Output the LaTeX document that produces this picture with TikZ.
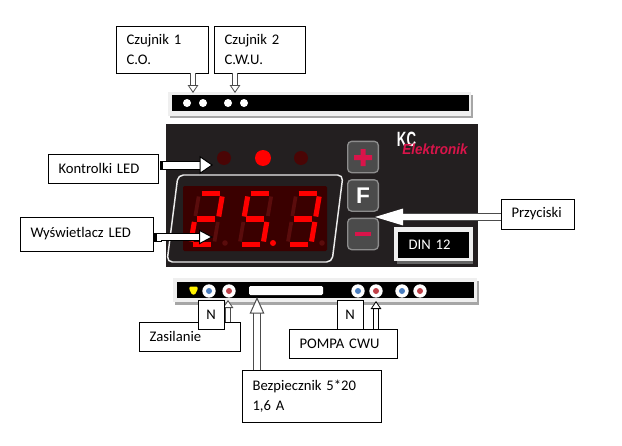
\documentclass[tikz,border=0pt]{standalone}
\usepackage{fontspec}
\setmainfont{Carlito}[WordSpace=0.6]
\newfontfamily\logofont{Liberation Sans}
\usetikzlibrary{positioning, calc, arrows.meta}

\definecolor{panel}{HTML}{231F20}
\definecolor{stripgrey}{HTML}{EFEFEF}
\definecolor{ledoff}{HTML}{4A0505}
\definecolor{ledon}{HTML}{FF0000}
\definecolor{screen}{HTML}{3A0000}
\definecolor{ghost}{HTML}{5A0C0C}
\definecolor{crimson}{HTML}{D9144A}
\definecolor{keygrey}{HTML}{4B4B4B}
\definecolor{termblue}{HTML}{4A7EC0}
\definecolor{termred}{HTML}{C04048}

% one seven segment digit, #1 = left edge, #2 = lit segments
\newcommand{\segdigit}[2]{
    \begin{scope}[shift={(#1,244.5)}, xslant=0.17]
        \foreach \py in {-51,-25.5}
            \draw [seg, ghost, line width=2.8pt] (0.5,\py+3) -- (0.5,\py+22.5) (24,\py+3) -- (24,\py+22.5);
        \foreach \sx/\sy/\ex/\ey in {#2}
            \draw [seg, ledon] (\sx,\sy) -- (\ex,\ey);
    \end{scope}
}

\begin{document}
\begin{tikzpicture}[x=0.75pt, y=-0.75pt, line width=0.75pt, every node/.style={font=\fontsize{11}{13}\selectfont}]
    % Define styles
    \tikzstyle{box} = [rectangle, draw=black, fill=white, anchor=north west, align=left, inner xsep=7.9pt, inner ysep=0pt, outer sep=0pt]
    \tikzstyle{seg} = [line width=3.8pt]
    \tikzstyle{tailbox} = [rectangle, draw=black, fill=white, inner sep=0pt, outer sep=0pt, line width=0.6pt]
    \tikzstyle{blockarrow} = [draw=black!70, double=white, double distance=4.5pt, line width=0.75pt, -{Triangle[open, fill=white, length=12.5pt, width=11pt, line width=0.75pt]}]
    \tikzstyle{thinarrow} = [blockarrow, double distance=3pt, -{Triangle[open, fill=white, length=6pt, width=8pt, line width=0.6pt]}]
    \tikzstyle{terminal} = [circle, fill=white, minimum size=10pt, inner sep=0pt]
    \tikzstyle{key} = [rectangle, rounded corners=3pt, draw=black!45, fill=keygrey, line width=1pt, minimum width=23pt, minimum height=23.5pt, inner sep=0pt]

    \useasboundingbox (0,0) rectangle (622,446);

    % Device panel
    \fill [panel] (166,124) rectangle (478,267);
    \node [circle, fill=ledoff, minimum size=10.5pt, inner sep=0pt] (led_left) at (224,158) {};
    \node [circle, fill=ledon, minimum size=12pt, inner sep=0pt] (led_mid) at (263,158) {};
    \node [circle, fill=ledoff, minimum size=10.5pt, inner sep=0pt] (led_right) at (301,158) {};

    % Display
    \draw [black!8, fill=panel, line width=1.1pt, rounded corners=4pt] (178,175) -- (343,175) -- (332,262) -- (167,262) -- cycle;
    \fill [screen, rounded corners=1pt] (183,186) rectangle (327,251);
    \segdigit{190}{3/-51/21/-51, 24/-48/24/-28, 3/-25.5/21/-25.5, 0.5/-22.5/0.5/-3, 3/0/21/0}
    \segdigit{239}{3/-51/21/-51, 0.5/-48/0.5/-28, 3/-25.5/21/-25.5, 24/-22.5/24/-3, 3/0/21/0}
    \segdigit{287}{3/-51/21/-51, 24/-48/24/-28, 3/-25.5/21/-25.5, 24/-22.5/24/-3, 3/0/21/0}
    \fill [ghost] (225,243) circle (2.8);
    \fill [ledon] (273,243) circle (3);
    \fill [ghost] (322,243) circle (2.8);

    % Keys
    \node [key] (key_plus) at (363,157) {};
    \node [key] (key_f) at (363,195.5) {};
    \node [key] (key_minus) at (363,234) {};
    \fill [crimson] (360.5,149) rectangle (365.5,166) (354,155) rectangle (372,160);
    \node [text=white, inner sep=0pt, font=\logofont\bfseries\fontsize{17}{17}\selectfont] (key_f_label) at (363,195.5) {F};
    \fill [crimson] (355,232) rectangle (371,236);

    % Logo
    \node [text=white, inner sep=0pt, transform shape, xscale=0.64, font=\logofont\bfseries\fontsize{15.5}{15.5}\selectfont] (logo_kc) at (406.5,139.5) {KC};
    \node [text=crimson, inner sep=0pt, transform shape, xscale=0.92, font=\logofont\bfseries\itshape\fontsize{11}{11}\selectfont] (logo_text) at (435,149) {Elektronik};

    % DIN plate
    \fill [black!60] (397,231) rectangle (473,264);
    \fill [stripgrey] (394,227) rectangle (473,261);
    \node [box, fill=black, draw=none, text=white, text width=37.45pt, minimum height=19.5pt] (din) at (398,232) {DIN 12};

    % Top strip
    \fill [black!35] (170,95) rectangle (473,118);
    \fill [stripgrey] (168,92) rectangle (471,116);
    \fill [black] (172,95) rectangle (469,111);
    \foreach \px in {187,203,228,244}
        \fill [white] (\px,103) circle (4);

    % Bottom strip
    \fill [black!35] (175,281) rectangle (479,305);
    \fill [stripgrey] (173,278) rectangle (477,302);
    \fill [black] (177,282) rectangle (474,298);
    \fill [yellow, rounded corners=1.5pt] (189,286.5) -- (198,286.5) -- (197,292) -- (193.5,295.5) -- (190,292) -- cycle;
    \foreach \px/\pc in {209/termblue, 229/termred, 358/termblue, 376/termred, 402/termblue, 420/termred}{
        \node [terminal] at (\px,291) {};
        \fill [\pc] (\px,291) circle (3);
    }
    \node [rectangle, rounded corners=1pt, fill=white, minimum width=55.5pt, minimum height=6.75pt, inner sep=0pt] (fuse) at (286,290.5) {};

    % Arrow ends
    \coordinate (tip_one) at (193,93);
    \coordinate (tip_two) at (235,93);
    \coordinate (tip_led) at (213,165);
    \coordinate (tip_screen) at (213,237);
    \coordinate (tip_keys) at (375,217);
    \coordinate (tip_power) at (228,300);
    \coordinate (tip_fuse) at (257,297);
    \coordinate (tip_pump) at (376,301);

    % Place label boxes
    \node [box, text width=53.2pt, minimum height=35.25pt] (sensor_one) at (116,26) {Czujnik 1\\[2pt]C.O.};
    \node [box, text width=52.45pt, minimum height=35.25pt] (sensor_two) at (214,26) {Czujnik 2\\[2pt]C.W.U.};
    \node [box, text width=66.7pt, minimum height=21.75pt] (leds) at (48,154) {Kontrolki LED};
    \node [box, text width=83.95pt, minimum height=25.5pt] (screen_label) at (20,217) {Wyświetlacz LED};
    \node [box, text width=38.95pt, minimum height=22.5pt] (keys) at (501,199) {Przyciski};
    \node [box, text width=65.2pt, minimum height=21.75pt] (pump) at (289,329) {POMPA CWU};
    \node [box, text width=88.45pt, minimum height=39pt] (fuse_label) at (242,370) {Bezpiecznik 5*20\\[2pt]1,6 A};
    \node [box, text width=59.95pt, minimum height=21.75pt] (power) at (139,322) {Zasilanie};

    % Small tails of the two LED arrows
    \node [tailbox, minimum width=3.75pt, minimum height=6pt] (tail_led) at (164.5,165) {};
    \node [tailbox, minimum width=1pt, minimum height=6pt, left=0.4pt of tail_led] (tail_led_b) {};
    \node [tailbox, minimum width=3.75pt, minimum height=6pt] (tail_screen) at (158.5,237) {};
    \node [tailbox, minimum width=1pt, minimum height=6pt, left=0.4pt of tail_screen] (tail_screen_b) {};

    % Draw connections as arrows
    \draw [thinarrow] (tip_one |- sensor_one.south) -- (tip_one);
    \draw [thinarrow] (tip_two |- sensor_two.south) -- (tip_two);
    \draw [blockarrow, draw=black, double distance=5.25pt, -{Triangle[open, fill=white, length=10pt, width=13.5pt, line width=0.75pt]}] (tail_led.east) -- (tip_led);
    \draw [blockarrow, draw=black, -{Triangle[open, fill=white, length=10.5pt, width=11pt, line width=0.75pt]}] (tail_screen.east) -- (tip_screen);
    \draw [blockarrow, -{Triangle[open, fill=white, color=white, length=21pt, width=12.5pt, line width=0.75pt]}] (keys.west |- tip_keys) -- (tip_keys);
    \draw [thinarrow] (tip_power |- power.north) -- (tip_power);
    \draw [blockarrow] (tip_fuse |- fuse_label.north) -- (tip_fuse);
    \draw [thinarrow, draw=black] (tip_pump |- pump.north) -- (tip_pump);

    % N boxes stand in front of the supply boxes
    \node [box, inner xsep=0pt, align=center, text width=19.5pt, minimum height=21.75pt] (power_n) at (198,300) {N};
    \node [box, inner xsep=0pt, align=center, text width=19.5pt, minimum height=21.75pt] (pump_n) at (337,300) {N};
\end{tikzpicture}
\end{document}
